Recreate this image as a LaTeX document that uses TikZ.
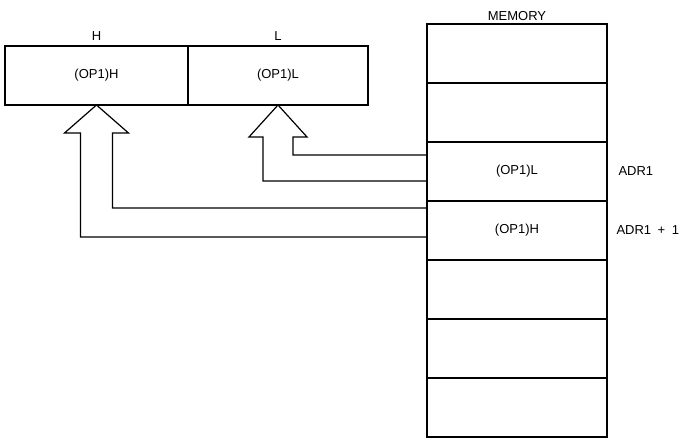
\documentclass[tikz,border=0pt]{standalone}
\usepackage{fontspec}
\setmainfont{Liberation Sans}
\usepackage{tikz}
\usetikzlibrary{positioning, calc}

\begin{document}
\begin{tikzpicture}[
  x=1pt, y=1pt,
  reg/.style={rectangle, draw, line width=1.2pt, outer sep=0pt, minimum height=59pt, font=\fontsize{13}{15}\selectfont},
  cell/.style={rectangle, draw, line width=1.2pt, outer sep=0pt, minimum width=180pt, minimum height=59pt, font=\fontsize{13}{15}\selectfont},
  tag/.style={font=\fontsize{13}{15}\selectfont},
  pipe/.style={line width=1.2pt},
]
  \useasboundingbox (0,0) rectangle (685,444);

  % register pair
  \node[reg, minimum width=183pt] (regH) at (96.5,368.5) {(OP1)H};
  \node[reg, minimum width=180pt, right=0pt of regH] (regL) {(OP1)L};
  \node[tag, above=2pt of regH] (lblH) {H};
  \node[tag, above=2pt of regL] (lblL) {L};

  % memory
  \node[cell] (m1) at (517,390.5) {};
  \node[cell, below=0pt of m1] (m2) {};
  \node[cell, below=0pt of m2] (m3) {(OP1)L};
  \node[cell, below=0pt of m3] (m4) {(OP1)H};
  \node[cell, below=0pt of m4] (m5) {};
  \node[cell, below=0pt of m5] (m6) {};
  \node[cell, below=0pt of m6] (m7) {};
  \node[tag, above=0pt of m1] (mem) {MEMORY};
  \node[tag, right=8pt of m3] (adr) {ADR1};
  \node[tag, right=6pt of m4] (adrp) {ADR1\enspace+\enspace1};

  % block arrows
  \draw[pipe] ([yshift=-13pt]m3.north west) -| ([xshift=15pt,yshift=-32pt]regL.south)
    -- ++(14,0) -- (regL.south) -- ++(-29,-32) -- ++(14,0) |- ([yshift=-39pt]m3.north west);
  \draw[pipe] ([yshift=-7pt]m4.north west) -| ([xshift=16pt,yshift=-28pt]regH.south)
    -- ++(16,0) -- (regH.south) -- ++(-32,-28) -- ++(16,0) |- ([yshift=-36pt]m4.north west);
\end{tikzpicture}
\end{document}
